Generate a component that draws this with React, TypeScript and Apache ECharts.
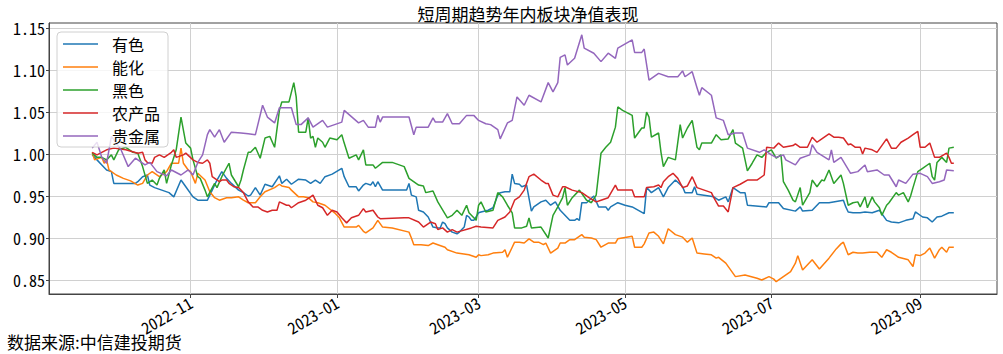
import React, { useEffect, useRef } from "react";
import * as echarts from "echarts";

type Pt = [string, number];

const seriesNames = ["有色", "能化", "黑色", "农产品", "贵金属"];
const seriesColors = ["#1f77b4", "#ff7f0e", "#2ca02c", "#d62728", "#9467bd"];
const yTicks = [0.85, 0.9, 0.95, 1.0, 1.05, 1.1, 1.15];
const xTicks = ["2022-11-01", "2023-01-01", "2023-03-01", "2023-05-01", "2023-07-01", "2023-09-01"];
const titleText = "短周期趋势年内板块净值表现";
const sourceText = "数据来源:中信建投期货";

const youSe: Pt[] = [
  ["2022-09-21",0.999],["2022-09-23",0.993],["2022-09-25",0.987],["2022-09-27",0.981],["2022-09-29",0.979],["2022-09-30",0.965],["2022-10-09",0.965],["2022-10-10",0.967],["2022-10-12",0.973],["2022-10-14",0.975],["2022-10-15",0.963],["2022-10-17",0.960],["2022-10-20",0.957],["2022-10-23",0.954],["2022-10-25",0.949],["2022-10-28",0.969],["2022-10-30",0.961],["2022-11-02",0.949],["2022-11-04",0.945],["2022-11-08",0.945],["2022-11-10",0.957],["2022-11-12",0.969],["2022-11-14",0.979],["2022-11-16",0.971],["2022-11-18",0.965],["2022-11-21",0.957],["2022-11-23",0.954],["2022-11-25",0.950],["2022-11-26",0.951],["2022-11-28",0.960],["2022-11-30",0.951],["2022-12-02",0.964],["2022-12-05",0.961],["2022-12-08",0.974],["2022-12-09",0.965],["2022-12-11",0.970],["2022-12-13",0.964],["2022-12-16",0.970],["2022-12-19",0.969],["2022-12-21",0.965],["2022-12-23",0.969],["2022-12-25",0.965],["2022-12-27",0.973],["2022-12-30",0.976],["2023-01-03",0.983],["2023-01-04",0.973],["2023-01-06",0.961],["2023-01-09",0.961],["2023-01-10",0.956],["2023-01-12",0.963],["2023-01-13",0.965],["2023-01-15",0.963],["2023-01-16",0.967],["2023-01-17",0.961],["2023-01-18",0.967],["2023-01-20",0.957],["2023-01-30",0.957],["2023-01-31",0.965],["2023-02-01",0.951],["2023-02-03",0.949],["2023-02-04",0.933],["2023-02-06",0.931],["2023-02-08",0.925],["2023-02-10",0.913],["2023-02-12",0.912],["2023-02-13",0.912],["2023-02-14",0.919],["2023-02-15",0.917],["2023-02-16",0.912],["2023-02-18",0.907],["2023-02-20",0.905],["2023-02-21",0.907],["2023-02-23",0.913],["2023-02-24",0.927],["2023-02-25",0.925],["2023-02-26",0.921],["2023-02-27",0.921],["2023-03-01",0.930],["2023-03-02",0.931],["2023-03-05",0.933],["2023-03-07",0.936],["2023-03-09",0.951],["2023-03-10",0.954],["2023-03-12",0.955],["2023-03-14",0.955],["2023-03-15",0.976],["2023-03-16",0.965],["2023-03-18",0.964],["2023-03-19",0.961],["2023-03-21",0.963],["2023-03-23",0.932],["2023-03-24",0.937],["2023-03-27",0.943],["2023-03-29",0.945],["2023-03-31",0.939],["2023-04-02",0.943],["2023-04-04",0.933],["2023-04-07",0.924],["2023-04-08",0.921],["2023-04-10",0.921],["2023-04-11",0.923],["2023-04-12",0.921],["2023-04-13",0.942],["2023-04-15",0.942],["2023-04-18",0.950],["2023-04-20",0.937],["2023-04-23",0.937],["2023-04-24",0.933],["2023-04-25",0.937],["2023-04-28",0.942],["2023-05-01",0.939],["2023-05-04",0.937],["2023-05-09",0.929],["2023-05-10",0.960],["2023-05-12",0.954],["2023-05-15",0.960],["2023-05-17",0.949],["2023-05-19",0.960],["2023-05-22",0.969],["2023-05-25",0.961],["2023-05-26",0.954],["2023-05-29",0.954],["2023-05-30",0.961],["2023-05-31",0.952],["2023-06-05",0.950],["2023-06-07",0.949],["2023-06-09",0.945],["2023-06-12",0.949],["2023-06-13",0.943],["2023-06-15",0.960],["2023-06-18",0.954],["2023-06-20",0.954],["2023-06-21",0.939],["2023-06-29",0.937],["2023-06-30",0.942],["2023-07-04",0.942],["2023-07-06",0.935],["2023-07-11",0.932],["2023-07-13",0.937],["2023-07-14",0.932],["2023-07-18",0.933],["2023-07-21",0.942],["2023-07-25",0.942],["2023-07-31",0.945],["2023-08-01",0.937],["2023-08-02",0.931],["2023-08-04",0.930],["2023-08-07",0.930],["2023-08-09",0.931],["2023-08-12",0.930],["2023-08-15",0.933],["2023-08-18",0.921],["2023-08-20",0.919],["2023-08-23",0.918],["2023-08-26",0.921],["2023-08-29",0.923],["2023-08-30",0.931],["2023-09-02",0.925],["2023-09-04",0.924],["2023-09-06",0.919],["2023-09-08",0.925],["2023-09-10",0.926],["2023-09-13",0.930],["2023-09-15",0.930]
];

const nengHua: Pt[] = [
  ["2022-09-21",1.002],["2022-09-22",0.993],["2022-09-25",0.996],["2022-09-26",0.989],["2022-09-27",0.993],["2022-09-28",0.981],["2022-10-01",0.975],["2022-10-04",0.971],["2022-10-07",0.968],["2022-10-10",0.963],["2022-10-12",0.965],["2022-10-14",0.975],["2022-10-16",0.979],["2022-10-19",0.973],["2022-10-22",0.979],["2022-10-24",0.989],["2022-10-27",0.989],["2022-10-28",1.007],["2022-10-29",0.989],["2022-10-31",0.981],["2022-11-01",0.979],["2022-11-03",0.965],["2022-11-04",0.977],["2022-11-07",0.969],["2022-11-09",0.955],["2022-11-11",0.948],["2022-11-13",0.945],["2022-11-16",0.948],["2022-11-18",0.948],["2022-11-21",0.949],["2022-11-23",0.945],["2022-11-25",0.942],["2022-11-28",0.942],["2022-11-30",0.949],["2022-12-02",0.955],["2022-12-06",0.960],["2022-12-08",0.964],["2022-12-09",0.962],["2022-12-12",0.960],["2022-12-13",0.957],["2022-12-16",0.949],["2022-12-18",0.949],["2022-12-20",0.948],["2022-12-22",0.943],["2022-12-24",0.942],["2022-12-27",0.939],["2022-12-31",0.930],["2023-01-02",0.924],["2023-01-04",0.913],["2023-01-09",0.913],["2023-01-10",0.915],["2023-01-12",0.908],["2023-01-13",0.906],["2023-01-16",0.912],["2023-01-18",0.921],["2023-01-20",0.913],["2023-01-24",0.912],["2023-01-31",0.907],["2023-02-01",0.900],["2023-02-02",0.892],["2023-02-05",0.892],["2023-02-08",0.891],["2023-02-10",0.894],["2023-02-12",0.892],["2023-02-15",0.889],["2023-02-16",0.886],["2023-02-20",0.882],["2023-02-25",0.880],["2023-02-28",0.877],["2023-03-01",0.880],["2023-03-02",0.879],["2023-03-05",0.880],["2023-03-07",0.882],["2023-03-11",0.883],["2023-03-12",0.886],["2023-03-13",0.877],["2023-03-15",0.889],["2023-03-16",0.895],["2023-03-18",0.895],["2023-03-20",0.894],["2023-03-22",0.899],["2023-03-24",0.895],["2023-03-26",0.895],["2023-03-28",0.892],["2023-03-29",0.894],["2023-03-31",0.882],["2023-04-03",0.888],["2023-04-04",0.894],["2023-04-06",0.894],["2023-04-08",0.898],["2023-04-10",0.898],["2023-04-13",0.904],["2023-04-14",0.901],["2023-04-17",0.900],["2023-04-19",0.898],["2023-04-21",0.889],["2023-04-24",0.894],["2023-04-27",0.894],["2023-04-28",0.899],["2023-05-04",0.902],["2023-05-05",0.889],["2023-05-08",0.889],["2023-05-09",0.893],["2023-05-11",0.906],["2023-05-13",0.907],["2023-05-15",0.902],["2023-05-17",0.893],["2023-05-19",0.911],["2023-05-22",0.904],["2023-05-25",0.901],["2023-05-27",0.895],["2023-05-29",0.900],["2023-05-31",0.882],["2023-06-03",0.881],["2023-06-06",0.880],["2023-06-08",0.876],["2023-06-09",0.877],["2023-06-12",0.870],["2023-06-16",0.854],["2023-06-20",0.856],["2023-06-25",0.852],["2023-06-27",0.850],["2023-06-30",0.854],["2023-07-02",0.851],["2023-07-03",0.848],["2023-07-06",0.854],["2023-07-09",0.860],["2023-07-11",0.870],["2023-07-12",0.879],["2023-07-14",0.862],["2023-07-18",0.874],["2023-07-21",0.863],["2023-07-25",0.876],["2023-07-28",0.887],["2023-07-30",0.893],["2023-07-31",0.895],["2023-08-02",0.880],["2023-08-04",0.883],["2023-08-06",0.882],["2023-08-08",0.882],["2023-08-11",0.883],["2023-08-14",0.883],["2023-08-16",0.877],["2023-08-18",0.886],["2023-08-20",0.883],["2023-08-23",0.877],["2023-08-27",0.874],["2023-08-29",0.866],["2023-08-30",0.880],["2023-09-01",0.879],["2023-09-03",0.882],["2023-09-05",0.888],["2023-09-07",0.876],["2023-09-09",0.886],["2023-09-10",0.889],["2023-09-12",0.883],["2023-09-13",0.889],["2023-09-15",0.889]
];

const heiSe: Pt[] = [
  ["2022-09-21",1.001],["2022-09-23",0.996],["2022-09-25",0.996],["2022-09-27",0.993],["2022-09-29",0.999],["2022-09-30",0.993],["2022-10-02",1.005],["2022-10-05",1.008],["2022-10-08",1.002],["2022-10-10",1.001],["2022-10-12",0.985],["2022-10-14",0.965],["2022-10-16",0.969],["2022-10-18",0.963],["2022-10-19",0.971],["2022-10-21",0.981],["2022-10-22",0.965],["2022-10-24",0.987],["2022-10-26",1.005],["2022-10-28",1.044],["2022-10-30",1.013],["2022-11-01",1.007],["2022-11-02",0.993],["2022-11-04",0.973],["2022-11-05",0.971],["2022-11-07",0.957],["2022-11-08",0.949],["2022-11-11",0.965],["2022-11-12",0.960],["2022-11-14",0.973],["2022-11-17",0.989],["2022-11-18",0.975],["2022-11-21",0.961],["2022-11-22",0.969],["2022-11-23",0.981],["2022-11-25",1.002],["2022-11-26",1.002],["2022-11-28",1.008],["2022-11-30",0.995],["2022-12-02",1.019],["2022-12-04",1.021],["2022-12-06",1.008],["2022-12-08",1.052],["2022-12-09",1.062],["2022-12-12",1.062],["2022-12-14",1.085],["2022-12-15",1.068],["2022-12-16",1.026],["2022-12-19",1.026],["2022-12-20",1.043],["2022-12-21",1.019],["2022-12-22",1.021],["2022-12-23",1.008],["2022-12-24",1.019],["2022-12-26",1.014],["2022-12-27",1.008],["2022-12-29",1.019],["2023-01-01",1.017],["2023-01-03",1.023],["2023-01-04",1.013],["2023-01-06",0.995],["2023-01-09",0.999],["2023-01-10",0.993],["2023-01-12",1.005],["2023-01-13",0.987],["2023-01-16",0.987],["2023-01-17",0.983],["2023-01-20",0.990],["2023-01-24",0.990],["2023-01-29",0.985],["2023-01-31",0.971],["2023-02-04",0.963],["2023-02-06",0.962],["2023-02-07",0.954],["2023-02-10",0.956],["2023-02-12",0.943],["2023-02-16",0.924],["2023-02-18",0.927],["2023-02-20",0.933],["2023-02-22",0.927],["2023-02-24",0.939],["2023-02-25",0.930],["2023-02-27",0.924],["2023-02-28",0.921],["2023-03-01",0.939],["2023-03-02",0.943],["2023-03-04",0.931],["2023-03-07",0.933],["2023-03-09",0.954],["2023-03-11",0.949],["2023-03-13",0.939],["2023-03-15",0.930],["2023-03-16",0.912],["2023-03-19",0.912],["2023-03-21",0.914],["2023-03-22",0.924],["2023-03-23",0.912],["2023-03-27",0.913],["2023-03-30",0.900],["2023-04-01",0.927],["2023-04-03",0.937],["2023-04-05",0.948],["2023-04-06",0.960],["2023-04-07",0.939],["2023-04-09",0.948],["2023-04-12",0.957],["2023-04-15",0.945],["2023-04-17",0.942],["2023-04-19",0.951],["2023-04-21",1.001],["2023-04-23",1.008],["2023-04-25",1.014],["2023-04-27",1.032],["2023-04-28",1.056],["2023-04-30",1.052],["2023-05-04",1.046],["2023-05-05",1.019],["2023-05-08",1.031],["2023-05-09",1.031],["2023-05-10",1.050],["2023-05-11",1.044],["2023-05-12",1.020],["2023-05-15",1.025],["2023-05-16",1.002],["2023-05-17",0.985],["2023-05-19",0.996],["2023-05-22",0.993],["2023-05-24",1.035],["2023-05-25",1.019],["2023-05-27",1.031],["2023-05-29",1.040],["2023-05-31",1.008],["2023-06-01",1.005],["2023-06-02",1.013],["2023-06-06",1.013],["2023-06-08",1.023],["2023-06-10",1.017],["2023-06-13",1.018],["2023-06-15",1.029],["2023-06-16",1.013],["2023-06-19",1.007],["2023-06-21",0.980],["2023-06-23",0.989],["2023-06-25",0.999],["2023-06-27",0.996],["2023-06-29",1.002],["2023-07-01",1.005],["2023-07-03",0.995],["2023-07-05",0.999],["2023-07-06",0.967],["2023-07-08",0.957],["2023-07-10",0.945],["2023-07-11",0.943],["2023-07-13",0.960],["2023-07-14",0.939],["2023-07-17",0.954],["2023-07-18",0.969],["2023-07-20",0.961],["2023-07-22",0.969],["2023-07-23",0.968],["2023-07-25",0.981],["2023-07-27",0.965],["2023-07-30",0.975],["2023-07-31",0.965],["2023-08-02",0.939],["2023-08-04",0.942],["2023-08-06",0.943],["2023-08-07",0.937],["2023-08-09",0.949],["2023-08-10",0.936],["2023-08-12",0.949],["2023-08-13",0.943],["2023-08-15",0.936],["2023-08-16",0.927],["2023-08-18",0.939],["2023-08-19",0.942],["2023-08-22",0.954],["2023-08-23",0.951],["2023-08-25",0.954],["2023-08-27",0.943],["2023-08-28",0.950],["2023-08-29",0.960],["2023-08-31",0.979],["2023-09-02",0.983],["2023-09-05",0.989],["2023-09-06",0.973],["2023-09-07",0.969],["2023-09-08",0.990],["2023-09-10",0.996],["2023-09-12",0.990],["2023-09-13",1.007],["2023-09-15",1.008]
];

const nongChanPin: Pt[] = [
  ["2022-09-21",1.002],["2022-09-23",0.999],["2022-09-27",1.005],["2022-09-30",1.007],["2022-10-05",1.005],["2022-10-10",1.001],["2022-10-12",1.002],["2022-10-13",0.993],["2022-10-14",0.990],["2022-10-16",0.989],["2022-10-17",0.996],["2022-10-19",0.999],["2022-10-21",0.996],["2022-10-24",1.002],["2022-10-25",1.005],["2022-10-26",0.996],["2022-10-29",0.999],["2022-10-30",1.001],["2022-11-02",0.993],["2022-11-04",0.990],["2022-11-06",0.989],["2022-11-08",0.993],["2022-11-09",0.989],["2022-11-10",0.973],["2022-11-13",0.967],["2022-11-14",0.969],["2022-11-16",0.969],["2022-11-17",0.965],["2022-11-19",0.961],["2022-11-21",0.960],["2022-11-23",0.954],["2022-11-25",0.943],["2022-11-27",0.937],["2022-11-29",0.937],["2022-12-01",0.933],["2022-12-03",0.931],["2022-12-05",0.933],["2022-12-07",0.933],["2022-12-08",0.943],["2022-12-11",0.939],["2022-12-12",0.939],["2022-12-13",0.936],["2022-12-16",0.942],["2022-12-19",0.945],["2022-12-21",0.949],["2022-12-22",0.951],["2022-12-23",0.945],["2022-12-24",0.939],["2022-12-26",0.936],["2022-12-28",0.927],["2022-12-30",0.933],["2023-01-01",0.931],["2023-01-03",0.924],["2023-01-05",0.918],["2023-01-07",0.924],["2023-01-10",0.927],["2023-01-12",0.935],["2023-01-13",0.931],["2023-01-16",0.933],["2023-01-18",0.925],["2023-01-19",0.923],["2023-01-29",0.924],["2023-01-31",0.924],["2023-02-04",0.919],["2023-02-06",0.913],["2023-02-09",0.919],["2023-02-11",0.917],["2023-02-12",0.910],["2023-02-14",0.912],["2023-02-16",0.907],["2023-02-18",0.910],["2023-02-20",0.907],["2023-02-26",0.912],["2023-02-28",0.914],["2023-03-02",0.913],["2023-03-07",0.912],["2023-03-09",0.921],["2023-03-12",0.925],["2023-03-14",0.931],["2023-03-16",0.945],["2023-03-18",0.949],["2023-03-20",0.957],["2023-03-22",0.973],["2023-03-24",0.976],["2023-03-27",0.969],["2023-03-29",0.965],["2023-03-30",0.965],["2023-04-01",0.951],["2023-04-03",0.949],["2023-04-05",0.961],["2023-04-06",0.961],["2023-04-09",0.957],["2023-04-13",0.954],["2023-04-16",0.948],["2023-04-19",0.943],["2023-04-21",0.945],["2023-04-24",0.948],["2023-04-27",0.963],["2023-04-28",0.957],["2023-05-04",0.957],["2023-05-05",0.949],["2023-05-09",0.949],["2023-05-10",0.960],["2023-05-13",0.961],["2023-05-15",0.963],["2023-05-16",0.960],["2023-05-17",0.967],["2023-05-19",0.973],["2023-05-21",0.977],["2023-05-23",0.971],["2023-05-25",0.960],["2023-05-27",0.962],["2023-05-29",0.973],["2023-05-31",0.960],["2023-06-03",0.957],["2023-06-06",0.954],["2023-06-07",0.948],["2023-06-09",0.938],["2023-06-11",0.938],["2023-06-13",0.931],["2023-06-15",0.960],["2023-06-18",0.964],["2023-06-21",0.969],["2023-06-25",0.969],["2023-06-28",0.975],["2023-06-29",1.008],["2023-07-02",1.007],["2023-07-04",1.013],["2023-07-06",1.008],["2023-07-10",1.010],["2023-07-11",1.012],["2023-07-13",1.008],["2023-07-16",1.008],["2023-07-18",1.020],["2023-07-20",1.014],["2023-07-22",1.018],["2023-07-25",1.024],["2023-07-27",1.020],["2023-07-29",1.020],["2023-07-31",1.019],["2023-08-02",1.011],["2023-08-03",1.012],["2023-08-05",1.008],["2023-08-07",1.008],["2023-08-08",1.000],["2023-08-09",1.007],["2023-08-12",1.005],["2023-08-14",1.002],["2023-08-18",1.018],["2023-08-20",1.007],["2023-08-22",1.007],["2023-08-24",1.014],["2023-08-27",1.019],["2023-08-29",1.023],["2023-08-31",1.027],["2023-09-01",1.008],["2023-09-03",1.008],["2023-09-05",1.013],["2023-09-07",0.996],["2023-09-09",0.996],["2023-09-12",1.001],["2023-09-13",0.996],["2023-09-14",0.989],["2023-09-15",0.989]
];

const guiJinShu: Pt[] = [
  ["2022-09-21",1.007],["2022-09-23",1.014],["2022-09-25",0.996],["2022-09-27",0.989],["2022-09-29",1.021],["2022-10-03",1.005],["2022-10-06",0.985],["2022-10-09",0.995],["2022-10-13",0.987],["2022-10-15",0.990],["2022-10-18",0.979],["2022-10-22",0.974],["2022-10-24",0.981],["2022-10-28",0.975],["2022-10-31",0.981],["2022-11-02",0.975],["2022-11-04",0.990],["2022-11-06",0.999],["2022-11-08",1.023],["2022-11-09",1.029],["2022-11-11",1.020],["2022-11-13",1.029],["2022-11-15",1.014],["2022-11-18",1.026],["2022-11-22",1.025],["2022-11-25",1.024],["2022-11-28",1.023],["2022-12-01",1.058],["2022-12-03",1.044],["2022-12-06",1.037],["2022-12-08",1.055],["2022-12-13",1.055],["2022-12-15",1.035],["2022-12-17",1.035],["2022-12-20",1.043],["2022-12-22",1.032],["2022-12-26",1.040],["2022-12-28",1.032],["2023-01-03",1.038],["2023-01-04",1.052],["2023-01-10",1.037],["2023-01-12",1.040],["2023-01-14",1.032],["2023-01-17",1.032],["2023-01-18",1.046],["2023-01-19",1.038],["2023-01-20",1.044],["2023-01-31",1.044],["2023-02-02",1.023],["2023-02-03",1.032],["2023-02-08",1.032],["2023-02-10",1.043],["2023-02-11",1.038],["2023-02-14",1.038],["2023-02-16",1.048],["2023-02-18",1.036],["2023-02-21",1.036],["2023-02-24",1.046],["2023-02-27",1.046],["2023-03-01",1.040],["2023-03-04",1.036],["2023-03-06",1.035],["2023-03-09",1.029],["2023-03-10",1.018],["2023-03-13",1.037],["2023-03-15",1.040],["2023-03-17",1.068],["2023-03-20",1.058],["2023-03-22",1.070],["2023-03-27",1.062],["2023-03-30",1.085],["2023-04-01",1.074],["2023-04-03",1.085],["2023-04-04",1.115],["2023-04-06",1.118],["2023-04-07",1.106],["2023-04-10",1.114],["2023-04-13",1.142],["2023-04-14",1.126],["2023-04-18",1.120],["2023-04-21",1.110],["2023-04-24",1.120],["2023-04-27",1.114],["2023-04-28",1.126],["2023-05-04",1.136],["2023-05-05",1.121],["2023-05-08",1.121],["2023-05-09",1.125],["2023-05-11",1.088],["2023-05-15",1.096],["2023-05-19",1.092],["2023-05-23",1.092],["2023-05-25",1.099],["2023-05-26",1.092],["2023-05-29",1.098],["2023-05-31",1.079],["2023-06-01",1.070],["2023-06-02",1.079],["2023-06-06",1.070],["2023-06-08",1.043],["2023-06-11",1.040],["2023-06-13",1.023],["2023-06-16",1.025],["2023-06-19",1.025],["2023-06-21",1.007],["2023-06-26",1.002],["2023-06-28",1.005],["2023-07-01",0.999],["2023-07-03",0.996],["2023-07-06",0.999],["2023-07-07",0.993],["2023-07-11",0.987],["2023-07-13",0.995],["2023-07-17",0.999],["2023-07-18",1.011],["2023-07-20",1.002],["2023-07-25",0.993],["2023-07-26",1.005],["2023-07-27",0.990],["2023-07-30",0.996],["2023-08-03",0.977],["2023-08-06",0.979],["2023-08-09",0.987],["2023-08-10",0.979],["2023-08-14",0.981],["2023-08-17",0.975],["2023-08-19",0.975],["2023-08-22",0.961],["2023-08-23",0.969],["2023-08-26",0.965],["2023-08-29",0.976],["2023-09-01",0.977],["2023-09-04",0.973],["2023-09-06",0.965],["2023-09-09",0.967],["2023-09-11",0.969],["2023-09-12",0.981],["2023-09-15",0.980]
];

const seriesData: Pt[][] = [youSe, nengHua, heiSe, nongChanPin, guiJinShu];

const CJK = '"Noto Sans CJK SC", "Noto Sans", sans-serif';
const NUM = '"Noto Sans Mono CJK SC", "DejaVu Sans Mono", monospace';

function toTime(s: string): number {
  const [y, m, d] = s.split("-").map(Number);
  return new Date(y, m - 1, d).getTime();
}

export default function App() {
  const ref = useRef<HTMLDivElement>(null);
  useEffect(() => {
    if (!ref.current) return;
    const chart = echarts.init(ref.current, null, { renderer: "svg" });
    const xTickTimes = xTicks.map(toTime);
    const option: any = {
      animation: false,
      backgroundColor: "#ffffff",
      title: {
        text: titleText,
        left: 523,
        top: 0,
        textAlign: "center",
        textStyle: { fontFamily: CJK, fontSize: 17, fontWeight: "normal", color: "#000" },
      },
      legend: {
        orient: "vertical",
        left: 57,
        top: 32,
        icon: "rect",
        itemWidth: 35,
        itemHeight: 1.5,
        itemGap: 7,
        padding: [4, 8, 3, 6],
        backgroundColor: "rgba(255,255,255,0.8)",
        borderColor: "#d0d0d0",
        borderWidth: 1,
        borderRadius: 4,
        textStyle: { fontFamily: CJK, fontSize: 16, lineHeight: 16, color: "#000", padding: [0, 0, 0, 9] },
        data: seriesNames,
      },
      grid: {
        left: 49,
        right: 6,
        top: 23,
        bottom: 60,
        show: true,
        borderColor: "#444",
        borderWidth: 1,
        backgroundColor: "transparent",
      },
      xAxis: {
        type: "value",
        min: toTime("2022-09-03"),
        max: toTime("2023-10-03"),
        axisLine: { show: true, onZero: false, lineStyle: { color: "#444", width: 1 } },
        axisTick: { show: true, length: 4, lineStyle: { color: "#444" }, customValues: xTickTimes },
        splitLine: { show: true, lineStyle: { color: "#d0d0d0", width: 1 } },
        axisLabel: {
          customValues: xTickTimes,
          rotate: 30,
          margin: 7,
          fontFamily: NUM,
          fontSize: 16,
          color: "#000",
          formatter: (v: number) => {
            const d = new Date(v);
            return d.getFullYear() + "-" + String(d.getMonth() + 1).padStart(2, "0");
          },
        },
      },
      yAxis: {
        type: "value",
        min: 0.8333,
        max: 1.156,
        axisLine: { show: true, onZero: false, lineStyle: { color: "#444", width: 1 } },
        axisTick: { show: true, length: 3, lineStyle: { color: "#444" }, customValues: yTicks },
        splitLine: { show: true, lineStyle: { color: "#d0d0d0", width: 1 } },
        axisLabel: {
          customValues: yTicks,
          margin: 4,
          fontFamily: NUM,
          fontSize: 16,
          color: "#000",
          formatter: (v: number) => v.toFixed(2),
        },
      },
      graphic: [
        {
          type: "text",
          left: 7,
          top: 333,
          style: { text: sourceText, fontFamily: CJK, fontSize: 17, fill: "#000" },
        },
      ],
      series: seriesNames.map((name, i) => ({
        name,
        type: "line",
        data: seriesData[i].map(([d, v]) => [toTime(d), v]),
        showSymbol: false,
        symbol: "none",
        color: seriesColors[i],
        lineStyle: { width: 1.5, color: seriesColors[i] },
      })),
    };
    chart.setOption(option);
    return () => chart.dispose();
  }, []);
  return (
    <div
      ref={ref}
      style={{ position: "fixed", left: 0, top: 0, width: 1003, height: 354, background: "#fff" }}
    />
  );
}
